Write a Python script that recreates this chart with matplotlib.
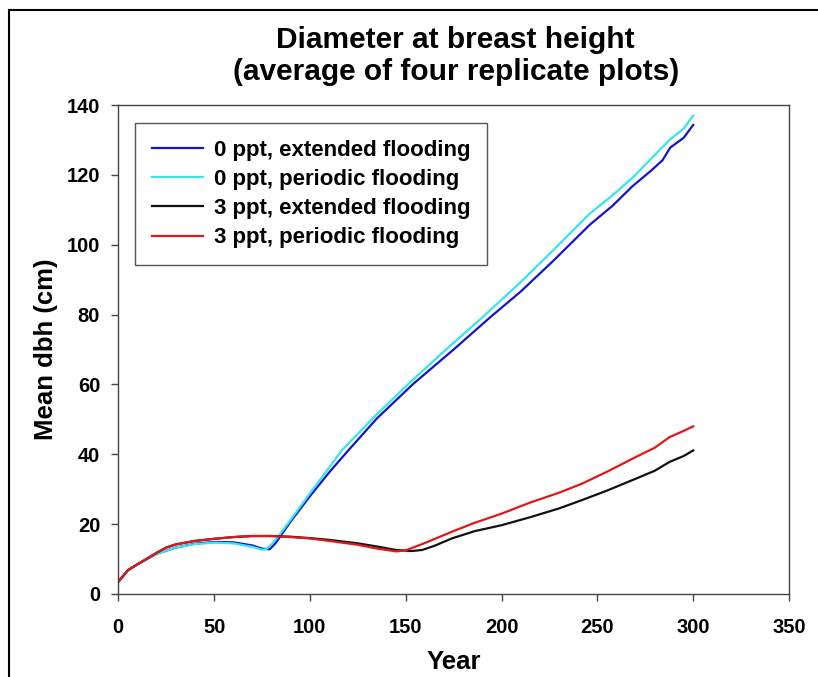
import matplotlib
matplotlib.use('Agg')
import matplotlib.pyplot as plt
from matplotlib.patches import Rectangle

plt.rcParams['font.family'] = ['Liberation Sans', 'DejaVu Sans']

# 0 ppt, extended flooding
blue_years = [0, 5, 10, 20, 30, 40, 50, 60, 70, 75, 79, 82, 90, 100, 110, 120,
              135, 154, 175, 194, 210, 227, 246, 258, 268, 278, 284, 288, 295, 300]
blue_vals = [3.5, 6.8, 8.5, 11.5, 13.3, 14.4, 14.9, 14.8, 13.9, 13.0, 12.8, 14.5,
             20.8, 28.0, 34.8, 41.1, 50.3, 60.2, 70.0, 79.2, 86.6, 95.4, 105.7,
             111.2, 116.6, 121.2, 124.2, 127.8, 130.6, 134.3]

# 0 ppt, periodic flooding
cyan_years = [0, 5, 10, 20, 30, 40, 50, 60, 70, 75, 77, 80, 83.4, 90, 100, 116.6,
              135, 151.5, 170, 190, 209, 226.7, 245.8, 258, 268.4, 278, 287.6,
              295, 300]
cyan_vals = [3.5, 6.8, 8.5, 11.5, 13.3, 14.3, 14.7, 14.5, 13.5, 12.7, 12.8, 14.2,
             16.4, 21.3, 28.8, 41.1, 51.5, 60.2, 69.5, 79.2, 88.8, 98.3, 108.8,
             114.2, 119.2, 124.6, 130.0, 133.2, 137.0]

# 3 ppt, extended flooding
black_years = [0, 5, 10, 20, 25, 30, 40, 50, 60, 70, 80, 90, 100, 110, 125, 135,
               145, 153, 158.5, 165, 174, 186, 200, 215, 230, 242, 255, 270,
               280, 287.6, 295, 300]
black_vals = [3.5, 6.8, 8.5, 11.8, 13.3, 14.2, 15.2, 15.8, 16.3, 16.6, 16.6, 16.4,
              16.0, 15.5, 14.5, 13.6, 12.6, 12.3, 12.6, 13.8, 15.9, 18.0, 19.7,
              22.0, 24.5, 26.9, 29.6, 33.0, 35.3, 37.8, 39.5, 41.1]

# 3 ppt, periodic flooding
red_years = [0, 5, 10, 20, 25, 30, 40, 50, 60, 70, 80, 90, 100, 110, 125, 135,
             145, 150, 160, 174, 186, 200, 215, 230, 242, 255, 270, 280, 287.6,
             295, 300]
red_vals = [3.5, 6.8, 8.5, 11.8, 13.3, 14.2, 15.2, 15.8, 16.3, 16.6, 16.6, 16.3,
            15.9, 15.2, 14.1, 13.0, 12.2, 12.5, 14.6, 17.8, 20.4, 23.0, 26.2,
            29.0, 31.6, 35.0, 39.2, 41.9, 44.9, 46.7, 48.0]

fig = plt.figure(figsize=(8.18, 6.77), dpi=100)
ax = fig.add_axes([0.1446, 0.1226, 0.82, 0.7223])

ax.plot(blue_years, blue_vals, color='#1515c8', lw=1.6, label='0 ppt, extended flooding')
ax.plot(cyan_years, cyan_vals, color='#38e4ee', lw=1.6, label='0 ppt, periodic flooding')
ax.plot(black_years, black_vals, color='#111111', lw=1.6, label='3 ppt, extended flooding')
ax.plot(red_years, red_vals, color='#e01818', lw=1.6, label='3 ppt, periodic flooding')

ax.set_xlim(0, 350)
ax.set_ylim(0, 140)
ax.set_xticks(range(0, 351, 50))
ax.set_yticks(range(0, 141, 20))
ax.tick_params(direction='out', length=5, width=1, color='#444444', labelsize=14.5)
ax.tick_params(axis='x', pad=12)
ax.tick_params(axis='y', pad=8)
for lbl in ax.get_xticklabels() + ax.get_yticklabels():
    lbl.set_fontweight('bold')
for sp in ax.spines.values():
    sp.set_color('#444444')
    sp.set_linewidth(1)

ax.set_xlabel('Year', fontsize=18.5, fontweight='bold', labelpad=9.5)
ax.set_ylabel('Mean dbh (cm)', fontsize=18.5, fontweight='bold', labelpad=6)

fig.text(0.557, 0.941, 'Diameter at breast height', ha='center', va='center',
         fontsize=21.5, fontweight='bold')
fig.text(0.557, 0.893, '(average of four replicate plots)', ha='center', va='center',
         fontsize=21.5, fontweight='bold')

leg = ax.legend(loc='upper left', bbox_to_anchor=(0.025, 0.963),
                prop={'weight': 'bold', 'size': 16}, fancybox=False,
                edgecolor='#555555', framealpha=1, handlelength=2.3,
                labelspacing=0.37, borderaxespad=0, borderpad=0.75,
                handletextpad=0.5)
leg.get_frame().set_linewidth(1)

# outer frame around the figure
fig.patches.append(Rectangle((9 / 818, -0.05), 1.1, (677 - 10) / 677 + 0.05,
                             transform=fig.transFigure, fill=False,
                             edgecolor='black', lw=1.5))

fig.savefig('out.png', dpi=100)
